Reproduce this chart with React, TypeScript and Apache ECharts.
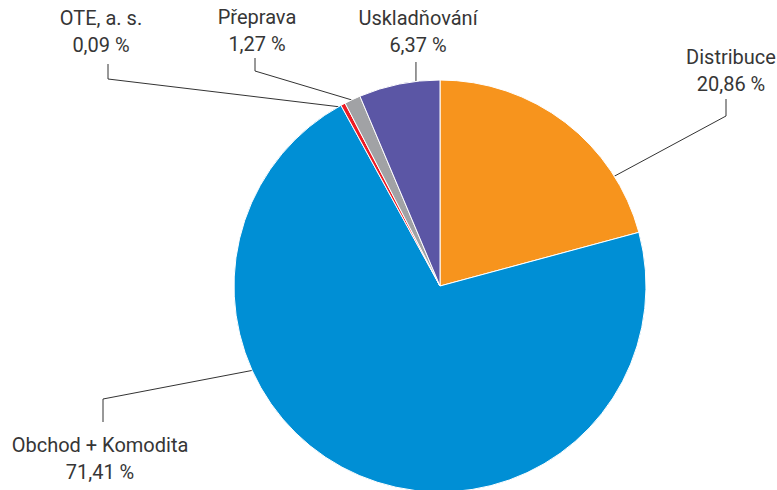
import React, { useEffect, useRef } from "react";
import * as echarts from "echarts";

const categories = ["Distribuce", "Obchod + Komodita", "OTE, a. s.", "Přeprava", "Uskladňování"];
const values = [20.86, 71.41, 0.09, 1.27, 6.37];
const colors = ["#F7941D", "#008FD5", "#ED1C24", "#A1A2A5", "#5B56A5"];

// layout of leader lines and labels (pixels / degrees clockwise from 12 o'clock)
const CX = 440;
const CY = 286;
const R = 206;
const anchorAngles = [57.8, 245.8, 330.5, 334.6, 353.3];
const elbows: (number[] | null)[] = [[726, 116], [103, 399], [108, 79], [255, 71], null];
const lineEndY = [99, 422, 64, 58, 62];
const labelPos = [
  { x: 731, y: 97, v: "bottom" },
  { x: 100, y: 431, v: "top" },
  { x: 101, y: 58, v: "bottom" },
  { x: 257, y: 57, v: "bottom" },
  { x: 418, y: 58, v: "bottom" },
];

const fmt = (v: number) => v.toFixed(2).replace(".", ",") + " %";

export default function App() {
  const ref = useRef<HTMLDivElement>(null);
  useEffect(() => {
    if (!ref.current) return;
    const chart = echarts.init(ref.current, undefined, { renderer: "svg" });
    const textStyle = { fontFamily: "Roboto", fontSize: 20, color: "#363636", lineHeight: 27 };
    chart.setOption({
      animation: false,
      backgroundColor: "#fff",
      series: [
        {
          type: "pie",
          center: [CX, CY],
          radius: R,
          startAngle: 90,
          clockwise: true,
          minAngle: 1.3,
          avoidLabelOverlap: false,
          itemStyle: { borderColor: "#fff", borderWidth: 1 },
          data: categories.map((c, i) => ({
            name: c,
            value: values[i],
            itemStyle: { color: colors[i] },
          })),
          label: {
            show: true,
            position: "outside",
            formatter: (p: any) => `{n|${p.name}}\n{n|${fmt(p.value)}}`,
            rich: { n: textStyle },
            ...textStyle,
            align: "center",
            overflow: "none",
          },
          labelLine: {
            show: true,
            length: 10,
            length2: 10,
            smooth: false,
            lineStyle: { color: "#333", width: 1 },
          },
          labelLayout: (params: any) => {
            const i = params.dataIndex;
            const a = (anchorAngles[i] * Math.PI) / 180;
            const ax = CX + R * Math.sin(a);
            const ay = CY - R * Math.cos(a);
            const pts: number[][] = [[ax, ay]];
            const e = elbows[i];
            if (e) {
              pts.push([e[0], e[1]]);
              pts.push([e[0], lineEndY[i]]);
            } else {
              pts.push([ax, lineEndY[i]]);
            }
            const lp = labelPos[i];
            return {
              x: lp.x,
              y: lp.y,
              align: "center",
              verticalAlign: lp.v,
              labelLinePoints: pts,
            };
          },
        },
      ],
    });
    return () => chart.dispose();
  }, []);
  return (
    <div
      ref={ref}
      style={{ position: "absolute", left: 0, top: 0, width: 777, height: 490 }}
    />
  );
}
